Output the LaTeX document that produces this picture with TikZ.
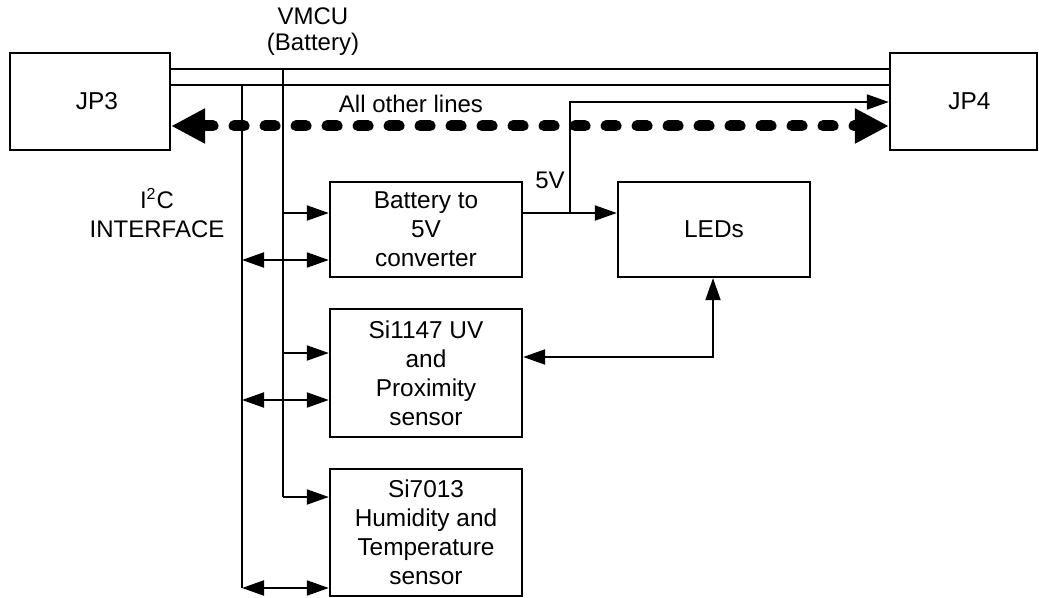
\documentclass[tikz,border=0pt]{standalone}
\usepackage{fontspec}
\setmainfont{Liberation Sans}
\usetikzlibrary{arrows.meta}

\tikzset{
  blk/.style={draw,line width=1.2pt,inner sep=0pt,align=center,
    font=\fontsize{12.2}{14.5}\selectfont},
  lbl/.style={inner sep=0pt,align=center,font=\fontsize{12}{14.5}\selectfont},
  wire/.style={line width=1pt},
  bus/.style={line width=5.5pt,line cap=round,dash pattern=on 5pt off 10.5pt,
    {Triangle[length=17pt,width=16.5pt]}-{Triangle[length=17pt,width=16.5pt]}},
}

\begin{document}
\begin{tikzpicture}[x=0.5pt,y=-0.5pt,>={Triangle[length=11pt,width=7.5pt]}]
  \useasboundingbox (0,0) rectangle (1039,598);
  \node[blk,minimum width=80pt,minimum height=48.5pt] (jp3) at (90,101.5) {\hspace*{7pt}JP3};
  \node[blk,minimum width=73.5pt,minimum height=48.5pt] (jp4) at (963.5,101.5) {\hspace*{6pt}JP4};
  \node[blk,minimum width=96pt,minimum height=47.5pt] (bat) at (426,229.5) {Battery to\\5V\\converter};
  \node[blk,minimum width=96pt,minimum height=64pt] (uv) at (426,373) {Si1147 UV\\and\\Proximity\\sensor};
  \node[blk,minimum width=96pt,minimum height=63.5pt] (hum) at (426,532.5) {Si7013\\Humidity and\\Temperature\\sensor};
  \node[blk,minimum width=96pt,minimum height=47.5pt] (leds) at (714,229.5) {LEDs};
  \node[lbl,font=\fontsize{12}{13}\selectfont] (vmcu) at (313,32) {VMCU\\(Battery)};
  \node[lbl] (i2c) at (157,213) {I\textsuperscript{2}C\\INTERFACE};
  \node[lbl] (other) at (411,104) {All other lines};
  \node[lbl] (five) at (550,180) {5V};
  \coordinate (vtop) at (283,69);
  \coordinate (itop) at (242,85);
  \coordinate (v1) at (283,213);
  \coordinate (v2) at (283,353);
  \coordinate (v3) at (283,497);
  \coordinate (i1) at (242,260);
  \coordinate (i2) at (242,400);
  \coordinate (i3) at (242,588);
  \coordinate (split) at (570,213);
  \coordinate (up5) at (570,102);
  \coordinate (lk) at (713,357);
  \coordinate (oth) at (530,126);
  \draw[wire] (jp3.east |- vtop) -- (jp4.west |- vtop);
  \draw[wire] (jp3.east |- itop) -- (jp4.west |- itop);
  \draw[wire] (vtop) -- (v3);
  \draw[wire] (itop) -- (i3);
  \draw[wire,->] (v1) -- (v1 -| bat.west);
  \draw[wire,->] (v2) -- (v2 -| uv.west);
  \draw[wire,->] (v3) -- (v3 -| hum.west);
  \draw[wire,<->] (i1) -- (i1 -| bat.west);
  \draw[wire,<->] (i2) -- (i2 -| uv.west);
  \draw[wire,<->] (i3) -- (i3 -| hum.west);
  \draw[wire,->] (bat.east |- split) -- (leds.west |- split);
  \draw[wire,->] (split) -- (up5) -- (up5 -| jp4.west);
  \draw[wire,<->] (leds.south -| lk) -- (lk) -- (lk -| uv.east);
  \draw[bus] (jp3.east |- oth) -- (jp4.west |- oth);
\end{tikzpicture}
\end{document}
